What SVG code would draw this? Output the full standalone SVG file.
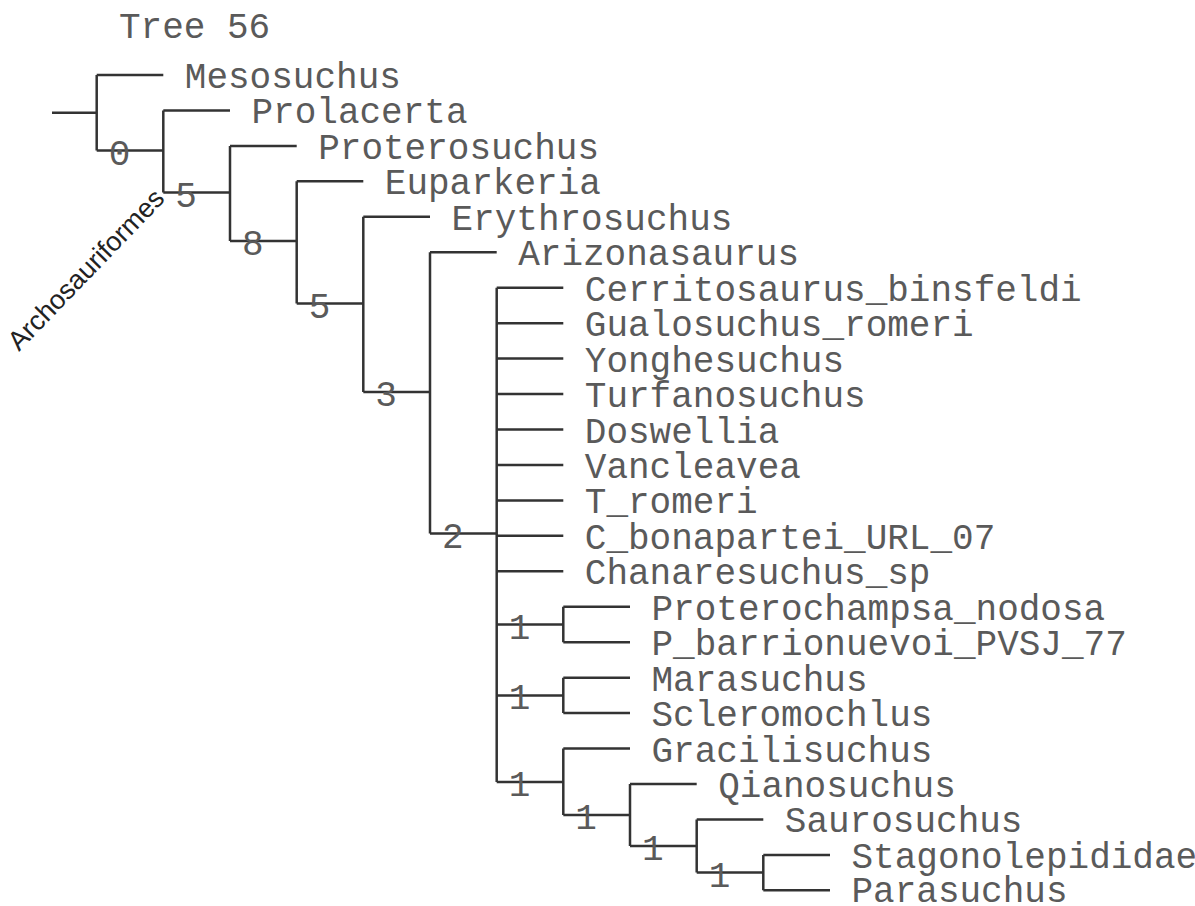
<svg xmlns="http://www.w3.org/2000/svg" width="1195" height="906" viewBox="0 0 1195 906">
<style>
.br{fill:none;stroke:#333;stroke-width:2.5;stroke-linecap:butt}
.tx{font-family:"Liberation Mono","Courier New",monospace;font-size:36px;fill:#5a5a5a}
.sp{font-family:"Liberation Mono","Courier New",monospace;font-size:36px;fill:#5a5a5a}
.cl{font-family:"Liberation Sans",Arial,sans-serif;font-size:27px;fill:#222}
</style>
<rect width="1195" height="906" fill="#fff"/>
<text class="tx" x="119" y="38">Tree 56</text>
<g id="connectors">
<path class="br" d="M52,112.75H96.7 M96.7,75V150.5 M96.7,75H163.3 M96.7,150.5H163.3
M163.3,110.45V192.5 M163.3,110.45H230 M163.3,192.5H230
M230,145.9V241 M230,145.9H296.7 M230,241H296.7
M296.7,181.35V303.5 M296.7,181.35H363.3 M296.7,303.5H363.3
M363.3,216.8V392 M363.3,216.8H430 M363.3,392H430
M430,252.25V533.5 M430,252.25H496.7 M430,533.5H496.7
M496.7,287.7V782
M496.7,287.7H563.3 M496.7,323.15H563.3 M496.7,358.6H563.3 M496.7,394.05H563.3 M496.7,429.5H563.3 M496.7,464.95H563.3 M496.7,500.4H563.3 M496.7,535.85H563.3 M496.7,571.3H563.3
M496.7,624.5H563.3 M563.3,606.75V642.2 M563.3,606.75H630 M563.3,642.2H630
M496.7,695.4H563.3 M563.3,677.65V713.1 M563.3,677.65H630 M563.3,713.1H630
M496.7,782H563.3 M563.3,748.55V815 M563.3,748.55H630
M563.3,815H630 M630,784V846 M630,784H696.7
M630,846H696.7 M696.7,819.45V872.6 M696.7,819.45H763.3
M696.7,872.6H763.3 M763.3,854.9V890.35 M763.3,854.9H830 M763.3,890.35H830"/>
</g>
<g id="taxa">
<g id="t-mesosuchus"><text class="tx" x="184.8" y="88">Mesosuchus</text></g>
<g id="t-prolacerta"><text class="tx" x="251.5" y="123.45">Prolacerta</text></g>
<g id="t-proterosuchus"><text class="tx" x="318.2" y="158.9">Proterosuchus</text></g>
<g id="t-euparkeria"><text class="tx" x="384.8" y="194.35">Euparkeria</text></g>
<g id="t-erythrosuchus"><text class="tx" x="451.5" y="229.8">Erythrosuchus</text></g>
<g id="t-arizonasaurus"><text class="tx" x="518.2" y="265.25">Arizonasaurus</text></g>
<g id="t-cerritosaurus"><text class="tx" x="584.8" y="300.7">Cerritosaurus_binsfeldi</text></g>
<g id="t-gualosuchus"><text class="tx" x="584.8" y="336.15">Gualosuchus_romeri</text></g>
<g id="t-yonghesuchus"><text class="tx" x="584.8" y="371.6">Yonghesuchus</text></g>
<g id="t-turfanosuchus"><text class="tx" x="584.8" y="407.05">Turfanosuchus</text></g>
<g id="t-doswellia"><text class="tx" x="584.8" y="442.5">Doswellia</text></g>
<g id="t-vancleavea"><text class="tx" x="584.8" y="477.95">Vancleavea</text></g>
<g id="t-tromeri"><text class="tx" x="584.8" y="513.4">T_romeri</text></g>
<g id="t-cbonapartei"><text class="tx" x="584.8" y="548.85">C_bonapartei_URL_07</text></g>
<g id="t-chanaresuchus"><text class="tx" x="584.8" y="584.3">Chanaresuchus_sp</text></g>
<g id="t-proterochampsa"><text class="tx" x="651.5" y="619.75">Proterochampsa_nodosa</text></g>
<g id="t-pbarrionuevoi"><text class="tx" x="651.5" y="655.2">P_barrionuevoi_PVSJ_77</text></g>
<g id="t-marasuchus"><text class="tx" x="651.5" y="690.65">Marasuchus</text></g>
<g id="t-scleromochlus"><text class="tx" x="651.5" y="726.1">Scleromochlus</text></g>
<g id="t-gracilisuchus"><text class="tx" x="651.5" y="761.55">Gracilisuchus</text></g>
<g id="t-qianosuchus"><text class="tx" x="718.2" y="797">Qianosuchus</text></g>
<g id="t-saurosuchus"><text class="tx" x="784.8" y="832.45">Saurosuchus</text></g>
<g id="t-stagonolepididae"><text class="tx" x="851.5" y="867.9">Stagonolepididae</text></g>
<g id="t-parasuchus"><text class="tx" x="851.5" y="902.35">Parasuchus</text></g>
</g>
<g id="support">
<g id="s-n1"><text class="sp" x="108.7" y="164.5">0</text></g>
<g id="s-n2"><text class="sp" x="175.3" y="206.5">5</text></g>
<g id="s-n3"><text class="sp" x="242" y="255">8</text></g>
<g id="s-n4"><text class="sp" x="308.7" y="317.5">5</text></g>
<g id="s-n5"><text class="sp" x="375.3" y="406">3</text></g>
<g id="s-p"><text class="sp" x="442" y="547.5">2</text></g>
<g id="s-a"><text class="sp" x="508.7" y="638.5">1</text></g>
<g id="s-b"><text class="sp" x="508.7" y="709.4">1</text></g>
<g id="s-c"><text class="sp" x="508.7" y="796">1</text></g>
<g id="s-d"><text class="sp" x="575.3" y="829">1</text></g>
<g id="s-e"><text class="sp" x="642" y="860">1</text></g>
<g id="s-f"><text class="sp" x="708.7" y="886.6">1</text></g>
</g>
<g id="clade-label"><text class="cl" x="19" y="352" transform="rotate(-46 19 352)">Archosauriformes</text></g>
</svg>
